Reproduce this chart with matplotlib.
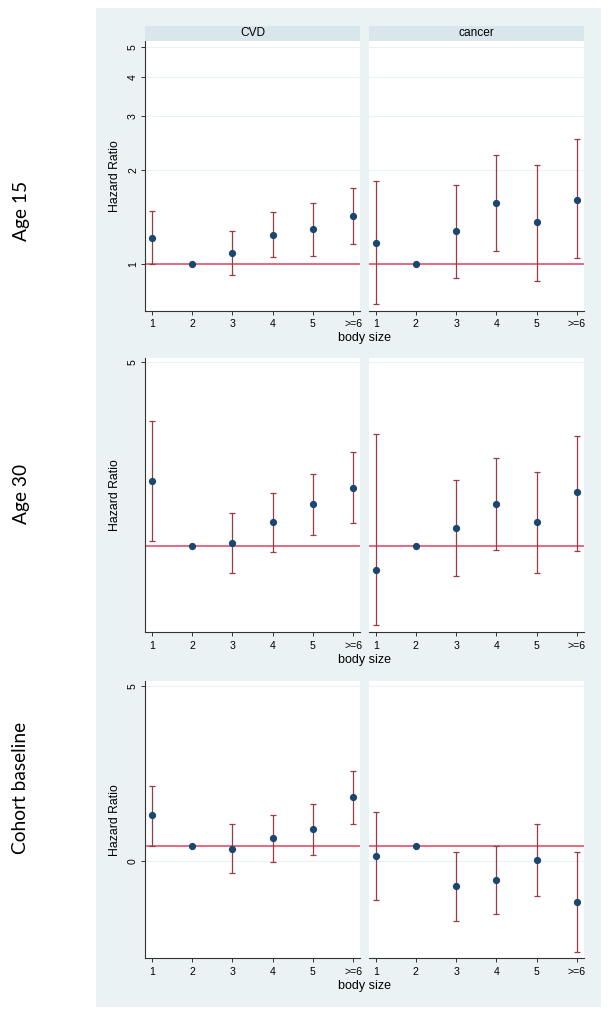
import matplotlib
matplotlib.use("Agg")
import matplotlib.pyplot as plt

# body size categories and the two outcomes
categories = ["1", "2", "3", "4", "5", ">=6"]
outcomes = ["CVD", "cancer"]
row_labels = ["Age 15", "Age 30", "Cohort baseline"]

# Age 15 (hazard ratios, log scale)
age15_cvd_hr = [1.21, 1.00, 1.08, 1.24, 1.29, 1.43]
age15_cvd_lo = [0.995, None, 0.92, 1.05, 1.06, 1.16]
age15_cvd_hi = [1.48, None, 1.27, 1.47, 1.57, 1.76]
age15_can_hr = [1.17, 1.00, 1.27, 1.57, 1.36, 1.61]
age15_can_lo = [0.74, None, 0.90, 1.10, 0.88, 1.04]
age15_can_hi = [1.85, None, 1.79, 2.24, 2.08, 2.52]

# Age 30 (hazard ratios, log scale)
age30_cvd_hr = [1.77, 1.00, 1.03, 1.23, 1.44, 1.66]
age30_cvd_lo = [1.045, None, 0.79, 0.95, 1.10, 1.22]
age30_cvd_hi = [2.99, None, 1.34, 1.59, 1.88, 2.28]
age30_can_hr = [0.81, 1.00, 1.17, 1.45, 1.23, 1.60]
age30_can_lo = [0.50, None, 0.77, 0.97, 0.79, 0.96]
age30_can_hi = [2.66, None, 1.78, 2.17, 1.92, 2.63]

# Cohort baseline (linear axis)
base_cvd_hr = [1.30, 0.41, 0.34, 0.65, 0.90, 1.81]
base_cvd_lo = [0.41, None, -0.34, -0.03, 0.16, 1.04]
base_cvd_hi = [2.15, None, 1.05, 1.32, 1.63, 2.57]
base_can_hr = [0.13, 0.41, -0.73, -0.55, 0.02, -1.18]
base_can_lo = [-1.12, None, -1.71, -1.52, -1.01, -2.61]
base_can_hi = [1.40, None, 0.25, 0.41, 1.05, 0.25]

ref_lines = [1.0, 1.0, 0.41]

BG = "#EAF2F3"
STRIP = "#D9E6EB"
NAVY = "#1A476F"
MAROON = "#9A3A45"
REFRED = "#E3506C"

plt.rcParams["font.family"] = ["Liberation Sans", "DejaVu Sans"]

W, H = 611, 1017
fig = plt.figure(figsize=(W / 100, H / 100), dpi=100)


def px_axes(x0, y0, x1, y1, **kw):
    return fig.add_axes([x0 / W, 1 - y1 / H, (x1 - x0) / W, (y1 - y0) / H], **kw)


# light panel behind the three graphs
bg = px_axes(96, 8, 601, 1007, zorder=-5)
bg.set_facecolor(BG)
bg.set_xticks([])
bg.set_yticks([])
for s in bg.spines.values():
    s.set_visible(False)

rows = [
    dict(data=[(age15_cvd_hr, age15_cvd_lo, age15_cvd_hi),
               (age15_can_hr, age15_can_lo, age15_can_hi)],
         top=40.7, bottom=310.7, log=True, ylim=(0.705, 5.24),
         yticks=[1, 2, 3, 4, 5], strips=True, label_y=211),
    dict(data=[(age30_cvd_hr, age30_cvd_lo, age30_cvd_hi),
               (age30_can_hr, age30_can_lo, age30_can_hi)],
         top=358.5, bottom=632.3, log=True, ylim=(0.47, 5.17),
         yticks=[5], strips=False, label_y=494),
    dict(data=[(base_cvd_hr, base_cvd_lo, base_cvd_hi),
               (base_can_hr, base_can_lo, base_can_hi)],
         top=681, bottom=958.3, log=False, ylim=(-2.79, 5.14),
         yticks=[0, 5], strips=False, label_y=788),
]
panel_x = [(145, 360), (368.7, 583.7)]
xpos = list(range(1, len(categories) + 1))

for r, row in enumerate(rows):
    for p, (hr, lo, hi) in enumerate(row["data"]):
        x0, x1 = panel_x[p]
        ax = px_axes(x0, row["top"], x1, row["bottom"])
        if row["log"]:
            ax.set_yscale("log")
        ax.set_ylim(*row["ylim"])
        ax.set_xlim(0.826, 6.17)
        ax.set_facecolor("white")
        for s in ["top", "right"]:
            ax.spines[s].set_visible(False)
        ax.spines["bottom"].set_color("#333333")
        ax.spines["left"].set_color("#333333")
        ax.spines["bottom"].set_linewidth(0.8)
        ax.spines["left"].set_linewidth(0.8)

        # grid lines at y ticks
        for t in row["yticks"]:
            ax.axhline(t, color=BG, lw=0.8, zorder=0)

        ax.axhline(ref_lines[r], color=REFRED, lw=1.2, zorder=2)

        for i, x in enumerate(xpos):
            if lo[i] is not None:
                ax.errorbar([x], [hr[i]], yerr=[[hr[i] - lo[i]], [hi[i] - hr[i]]],
                            fmt="none", ecolor=MAROON, elinewidth=0.9,
                            capsize=2, capthick=0.9, zorder=3)
        ax.plot(xpos, hr, "o", color=NAVY, markersize=4.2, zorder=4)

        ax.set_xticks(xpos)
        ax.set_xticklabels(categories, fontsize=7.6)
        ax.tick_params(axis="x", length=3, width=0.7, color="#333333", pad=3)
        ax.minorticks_off()
        if p == 0:
            ax.set_yticks(row["yticks"])
            ax.set_yticklabels([str(t) for t in row["yticks"]], fontsize=7.6,
                               rotation=90, va="center")
            ax.tick_params(axis="y", length=3, width=0.7, color="#333333", pad=2)
        else:
            ax.set_yticks([])
            ax.spines["left"].set_visible(False)

        if row["strips"]:
            sa = px_axes(x0, 25.7, x1, 40.7)
            sa.set_facecolor(STRIP)
            sa.set_xticks([])
            sa.set_yticks([])
            for s in sa.spines.values():
                s.set_visible(False)
            sa.text(0.5, 0.5, outcomes[p], ha="center", va="center",
                    fontsize=8.6, transform=sa.transAxes)

    # shared labels
    fig.text(115 / W, 1 - ((row["top"] + row["bottom"]) / 2) / H, "Hazard Ratio",
             rotation=90, ha="center", va="center", fontsize=8.8)
    fig.text(364 / W, 1 - (row["bottom"] + 27.5) / H, "body size",
             ha="center", va="center", fontsize=9)
    fig.text(21 / W, 1 - row["label_y"] / H, row_labels[r], rotation=90,
             ha="center", va="center", fontsize=13.8, family=["Lato", "DejaVu Sans"])

fig.savefig("out.png", dpi=100, facecolor="white")
